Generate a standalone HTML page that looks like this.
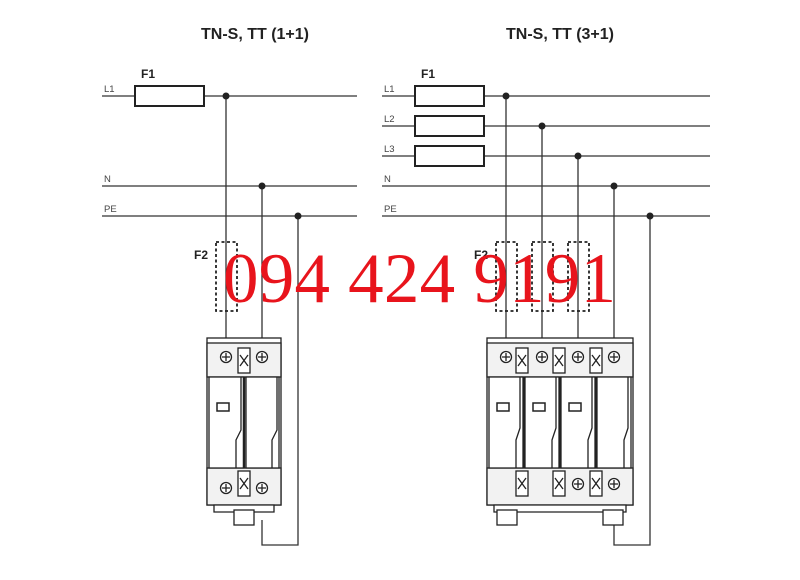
<!DOCTYPE html>
<html><head><style>body{margin:0;background:#fff}svg{display:block}</style></head>
<body>
<svg width="800" height="580" viewBox="0 0 800 580" xmlns="http://www.w3.org/2000/svg" font-family="Liberation Sans, sans-serif">
<rect width="800" height="580" fill="#fff"/>
<g font-weight="bold" font-size="16" fill="#222" text-anchor="middle">
<text x="255" y="39">TN-S, TT (1+1)</text>
<text x="560" y="39">TN-S, TT (3+1)</text>
</g>
<g font-size="9.5" fill="#444">
<text x="104" y="92">L1</text><text x="104" y="182">N</text><text x="104" y="212">PE</text>
<text x="384" y="92">L1</text><text x="384" y="122">L2</text><text x="384" y="152">L3</text><text x="384" y="182">N</text><text x="384" y="212">PE</text>
</g>
<g font-weight="bold" font-size="12" fill="#222">
<text x="141" y="78">F1</text><text x="421" y="78">F1</text>
<text x="194" y="259">F2</text><text x="474" y="259">F2</text>
</g>
<g stroke="#333" stroke-width="1.3" fill="none">
<path d="M102 96H357M102 186H357M102 216H357"/>
<path d="M382 96H710M382 126H710M382 156H710M382 186H710M382 216H710"/>
<path d="M226 96V340M262 186V340M298 216V545H262V520"/>
<path d="M506 96V340M542 126V340M578 156V340M614 186V340M650 216V545H614V520"/>
</g>
<g stroke="#222" stroke-width="2" fill="#fff">
<rect x="135" y="86" width="69" height="20"/>
<rect x="415" y="86" width="69" height="20"/><rect x="415" y="116" width="69" height="20"/><rect x="415" y="146" width="69" height="20"/>
</g>
<g stroke="#222" stroke-width="1.8" fill="none" stroke-dasharray="3,2.5">
<rect x="216" y="242" width="21" height="69"/>
<rect x="496" y="242" width="21" height="69"/><rect x="532" y="242" width="21" height="69"/><rect x="568" y="242" width="21" height="69"/>
</g>
<g fill="#222">
<circle cx="226" cy="96" r="3.5"/><circle cx="262" cy="186" r="3.5"/><circle cx="298" cy="216" r="3.5"/>
<circle cx="506" cy="96" r="3.5"/><circle cx="542" cy="126" r="3.5"/><circle cx="578" cy="156" r="3.5"/><circle cx="614" cy="186" r="3.5"/><circle cx="650" cy="216" r="3.5"/>
</g>
<!-- left device -->
<g stroke="#222" stroke-width="1.3" fill="#fff">
<rect x="207" y="338" width="74" height="167"/>
<rect x="207" y="343" width="74" height="34" fill="#f2f2f2"/>
<rect x="207" y="468" width="74" height="37" fill="#f2f2f2"/>
<rect x="209" y="377" width="35" height="91"/><rect x="246" y="377" width="33" height="91"/>
<path d="M244 377V468" stroke-width="2.5"/>
<rect x="217" y="403" width="12" height="8" stroke-width="1.5"/>
<path d="M236 468V440L241 430V377M272 468V440L277 430V377"/>
<rect x="238" y="348" width="12" height="25"/><rect x="238" y="471" width="12" height="25"/>
<path d="M240 355L248 366M248 355L240 366M240 478L248 489M248 478L240 489"/>
<circle cx="226" cy="357" r="5.5"/><circle cx="262" cy="357" r="5.5"/>
<circle cx="226" cy="488" r="5.5"/><circle cx="262" cy="488" r="5.5"/>
<path d="M222 357H230M226 353V361M258 357H266M262 353V361M222 488H230M226 484V492M258 488H266M262 484V492"/>
<path d="M214 505H274V512H214Z"/>
<rect x="234" y="510" width="20" height="15"/>
</g>
<!-- right device -->
<g stroke="#222" stroke-width="1.3" fill="#fff">
<rect x="487" y="338" width="146" height="167"/>
<rect x="487" y="343" width="146" height="34" fill="#f2f2f2"/>
<rect x="487" y="468" width="146" height="37" fill="#f2f2f2"/>
<rect x="489" y="377" width="34" height="91"/><rect x="525" y="377" width="34" height="91"/><rect x="561" y="377" width="34" height="91"/><rect x="597" y="377" width="34" height="91"/>
<path d="M524 377V468M560 377V468M596 377V468" stroke-width="2.5"/>
<rect x="497" y="403" width="12" height="8" stroke-width="1.5"/><rect x="533" y="403" width="12" height="8" stroke-width="1.5"/><rect x="569" y="403" width="12" height="8" stroke-width="1.5"/>
<path d="M516 468V440L520 428V377M552 468V440L556 428V377M588 468V440L592 428V377M624 468V440L628 428V377"/>
<rect x="516" y="348" width="12" height="25"/><rect x="553" y="348" width="12" height="25"/><rect x="590" y="348" width="12" height="25"/>
<rect x="516" y="471" width="12" height="25"/><rect x="553" y="471" width="12" height="25"/><rect x="590" y="471" width="12" height="25"/>
<path d="M518 355L526 366M526 355L518 366M555 355L563 366M563 355L555 366M592 355L600 366M600 355L592 366M518 478L526 489M526 478L518 489M555 478L563 489M563 478L555 489M592 478L600 489M600 478L592 489"/>
<circle cx="506" cy="357" r="5.5"/><circle cx="542" cy="357" r="5.5"/><circle cx="578" cy="357" r="5.5"/><circle cx="614" cy="357" r="5.5"/>
<circle cx="578" cy="484" r="5.5"/><circle cx="614" cy="484" r="5.5"/>
<path d="M502 357H510M506 353V361M538 357H546M542 353V361M574 357H582M578 353V361M610 357H618M614 353V361M574 484H582M578 480V488M610 484H618M614 480V488"/>
<path d="M494 505H626V512H494Z"/>
<rect x="497" y="510" width="20" height="15"/><rect x="603" y="510" width="20" height="15"/>
</g>
<text x="223" y="302" font-family="Liberation Serif, serif" font-size="71" fill="#e8141c" textLength="393">094 424 9191</text>
</svg>
</body></html>
